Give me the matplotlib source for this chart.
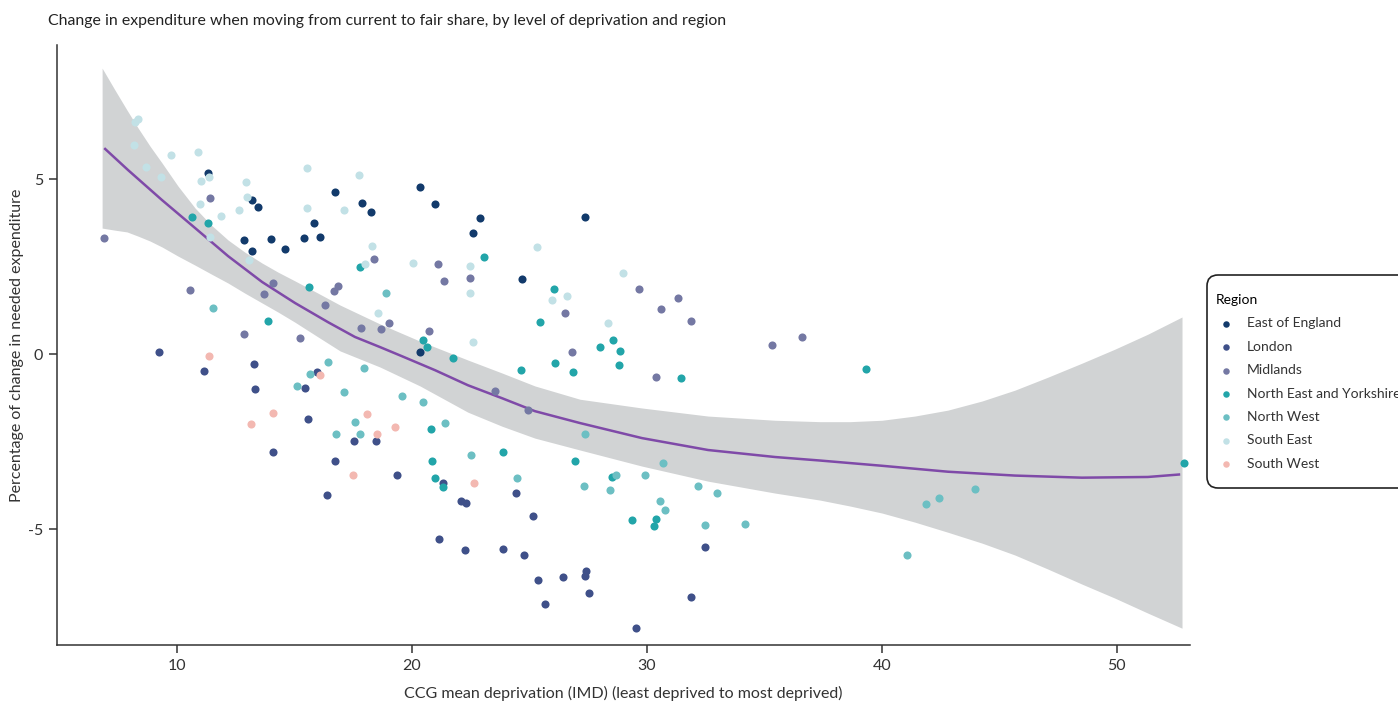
import matplotlib
matplotlib.use("Agg")
from matplotlib import pyplot as plt
from matplotlib.patches import FancyBboxPatch
from matplotlib.transforms import IdentityTransform

plt.rcParams['font.family'] = ['Lato', 'DejaVu Sans']

regions = ["East of England", "London", "Midlands", "North East and Yorkshire",
           "North West", "South East", "South West"]
region_colors = ["#123a6b", "#3f5089", "#7478a3", "#22a5a9", "#6cbfc3", "#c2e1e6", "#f3b8b1"]

# CCG mean deprivation (x) and % change in needed expenditure (y), per region
east_x = [11.32, 13.19, 13.45, 16.72, 15.83, 16.07, 15.40, 14.01, 12.85, 13.19,
          14.60, 20.34, 17.87, 18.26, 20.99, 22.89, 22.58, 24.67, 20.33, 27.36]
east_y = [5.18, 4.41, 4.19, 4.64, 3.74, 3.35, 3.32, 3.29, 3.25, 2.94,
          3.00, 4.78, 4.31, 4.06, 4.29, 3.89, 3.45, 2.15, 0.06, 3.93]

london_x = [9.22, 11.14, 13.28, 13.31, 15.97, 15.43, 15.56, 14.09, 16.71, 16.40,
            17.53, 18.46, 19.36, 21.31, 22.09, 22.30, 24.43, 25.15, 21.15, 22.24,
            23.89, 24.77, 25.37, 26.44, 25.66, 32.47, 27.42, 27.36, 27.54, 31.89, 29.52]
london_y = [0.06, -0.49, -0.28, -1.01, -0.51, -0.98, -1.84, -2.79, -3.05, -4.03,
            -2.48, -2.48, -3.44, -3.69, -4.20, -4.24, -3.96, -4.63, -5.27, -5.60,
            -5.57, -5.75, -6.46, -6.36, -7.15, -5.51, -6.19, -6.35, -6.83, -6.94, -7.83]

midlands_x = [6.91, 11.42, 14.10, 13.71, 16.68, 16.84, 10.55, 16.29, 12.85, 15.25,
              18.37, 21.09, 21.37, 22.46, 26.52, 17.84, 18.69, 19.01, 20.71, 26.81,
              23.53, 24.92, 29.65, 31.31, 30.60, 31.89, 35.31, 36.58, 30.37]
midlands_y = [3.32, 4.45, 2.04, 1.73, 1.80, 1.95, 1.83, 1.40, 0.57, 0.45,
              2.71, 2.56, 2.08, 2.16, 1.16, 0.75, 0.73, 0.89, 0.66, 0.05,
              -1.06, -1.60, 1.86, 1.61, 1.29, 0.94, 0.25, 0.49, -0.65]

ney_x = [10.65, 11.32, 15.62, 13.89, 17.79, 23.06, 26.03, 25.45, 20.48, 20.63,
         21.74, 24.63, 26.10, 26.84, 20.82, 20.86, 23.89, 20.99, 21.32, 26.94,
         28.55, 28.00, 28.85, 28.82, 31.43, 28.50, 29.35, 30.37, 30.30, 39.31, 52.84]
ney_y = [3.91, 3.75, 1.92, 0.95, 2.48, 2.77, 1.87, 0.93, 0.40, 0.20,
         -0.12, -0.45, -0.25, -0.51, -2.14, -3.05, -2.80, -3.53, -3.79, -3.05,
         0.40, 0.20, 0.09, -0.31, -0.68, -3.51, -4.74, -4.72, -4.92, -0.42, -3.11]

nw_x = [11.52, 16.44, 15.66, 15.09, 16.75, 18.89, 17.96, 17.12, 19.59, 20.47,
        17.56, 17.79, 21.40, 22.51, 24.47, 27.37, 30.69, 28.69, 29.93, 27.32,
        28.43, 32.18, 32.99, 30.55, 30.75, 32.47, 34.18, 43.96, 42.44, 41.87, 41.08]
nw_y = [1.32, -0.22, -0.58, -0.92, -2.29, 1.75, -0.39, -1.09, -1.21, -1.38,
        -1.94, -2.27, -1.97, -2.88, -3.55, -2.29, -3.12, -3.46, -3.45, -3.76,
        -3.88, -3.77, -3.97, -4.20, -4.45, -4.89, -4.84, -3.84, -4.12, -4.28, -5.74]

se_x = [8.33, 8.21, 8.17, 9.76, 10.88, 8.68, 9.33, 11.02, 11.36, 12.95,
        12.98, 10.98, 12.64, 11.87, 11.42, 13.08, 15.52, 15.52, 17.74, 17.11,
        18.31, 18.00, 20.04, 22.46, 22.47, 25.32, 25.96, 26.58, 18.57, 22.60,
        28.98, 28.33]
se_y = [6.71, 6.64, 5.96, 5.69, 5.77, 5.35, 5.07, 4.95, 5.07, 4.91,
        4.49, 4.28, 4.13, 3.94, 3.34, 2.69, 5.31, 4.18, 5.11, 4.11,
        3.09, 2.57, 2.59, 2.52, 1.74, 3.06, 1.54, 1.66, 1.16, 0.35,
        2.31, 0.88]

sw_x = [11.36, 16.10, 14.10, 13.14, 18.09, 18.52, 19.28, 17.50, 22.63]
sw_y = [-0.05, -0.61, -1.69, -1.99, -1.72, -2.27, -2.09, -3.45, -3.67]

# smoothed trend and its confidence band
trend_x = [6.94, 7.91, 9.36, 10.77, 12.17, 13.62, 15.02, 16.43, 17.57, 18.64,
           19.57, 20.98, 22.38, 23.83, 25.23, 27.15, 29.79, 32.60, 35.45, 37.36,
           40.00, 42.81, 45.66, 48.51, 51.32, 52.64]
trend_y = [5.86, 5.26, 4.40, 3.60, 2.80, 2.06, 1.46, 0.91, 0.49, 0.20,
           -0.06, -0.46, -0.89, -1.26, -1.63, -1.97, -2.40, -2.74, -2.94, -3.04,
           -3.19, -3.36, -3.47, -3.53, -3.51, -3.44]

band_x = [6.81, 7.36, 7.87, 8.34, 8.85, 9.36, 10.04, 10.77, 11.45, 12.17,
          12.89, 13.62, 14.30, 15.02, 16.00, 16.94, 18.64, 20.34, 22.38, 23.83,
          25.23, 27.15, 29.79, 32.60, 35.45, 37.36, 38.64, 40.00, 41.40, 42.81,
          44.26, 45.66, 47.06, 48.51, 49.91, 51.32, 52.77]
band_hi = [8.17, 7.54, 6.97, 6.46, 5.94, 5.46, 4.80, 4.17, 3.69, 3.26,
           2.91, 2.60, 2.34, 2.09, 1.74, 1.40, 0.86, 0.37, -0.17, -0.54,
           -0.91, -1.29, -1.54, -1.77, -1.89, -1.93, -1.93, -1.89, -1.77, -1.60,
           -1.34, -1.03, -0.66, -0.26, 0.14, 0.57, 1.06]
band_lo = [3.60, 3.54, 3.49, 3.37, 3.23, 3.06, 2.80, 2.54, 2.29, 2.03,
           1.74, 1.46, 1.20, 0.91, 0.49, 0.09, -0.37, -0.91, -1.66, -2.06,
           -2.40, -2.74, -3.20, -3.63, -3.97, -4.17, -4.34, -4.54, -4.80, -5.09,
           -5.40, -5.74, -6.14, -6.57, -6.97, -7.40, -7.83]

xs = [east_x, london_x, midlands_x, ney_x, nw_x, se_x, sw_x]
ys = [east_y, london_y, midlands_y, ney_y, nw_y, se_y, sw_y]

fig = plt.figure(figsize=(13.98, 7.04), dpi=100)
ax = fig.add_axes([57 / 1398, 1 - 645 / 704, (1190 - 57) / 1398, (645 - 45) / 704])

ax.fill_between(band_x, band_lo, band_hi, color="#d1d3d4", linewidth=0, zorder=1)
ax.plot(trend_x, trend_y, color="#7f4aa8", linewidth=1.8, zorder=2,
        solid_joinstyle="round")

for i in range(len(regions)):
    ax.scatter(xs[i], ys[i], s=34, color=region_colors[i], linewidths=0,
               label=regions[i], zorder=3)

ax.set_xlim(4.89, 53.11)
ax.set_ylim(-8.31, 8.83)
ax.set_xticks([10, 20, 30, 40, 50])
ax.set_yticks([-5, 0, 5])
ax.set_yticklabels(["-5", "0", "5"])

for side in ["top", "right"]:
    ax.spines[side].set_visible(False)
for side in ["left", "bottom"]:
    ax.spines[side].set_color("#333333")
    ax.spines[side].set_linewidth(1.1)
ax.tick_params(axis="both", length=6, width=1.1, color="#333333",
               labelsize=11.5, labelcolor="#333333", pad=4)

ax.set_xlabel("CCG mean deprivation (IMD) (least deprived to most deprived)",
              fontsize=11.5, color="#333333", labelpad=9.5)
ax.set_ylabel("Percentage of change in needed expenditure",
              fontsize=11.5, color="#333333", labelpad=3)
fig.text(48 / 1398, 1 - 21 / 704, "Change in expenditure when moving from current to fair share, by level of deprivation and region",
         fontsize=11.4, color="#222222", ha="left", va="center")

# legend box (runs off the right edge like the original)
box = FancyBboxPatch((1207, 704 - 488), 260, 488 - 275,
                     boxstyle="round,pad=0,rounding_size=11",
                     transform=IdentityTransform(), facecolor="white",
                     edgecolor="#222222", linewidth=1.2, zorder=4)
fig.add_artist(box)

leg = fig.legend(loc="upper left", bbox_to_anchor=(1207 / 1398, 1 - 285 / 704),
                 borderaxespad=0, title="Region", fontsize=10, title_fontsize=10,
                 frameon=False, markerscale=0.8, handletextpad=0.83, handlelength=1.4,
                 labelspacing=0.82, borderpad=0.65, alignment="left")
leg.set_zorder(5)
for t in leg.get_texts():
    t.set_color("#333333")

fig.savefig("out.png", dpi=100)
